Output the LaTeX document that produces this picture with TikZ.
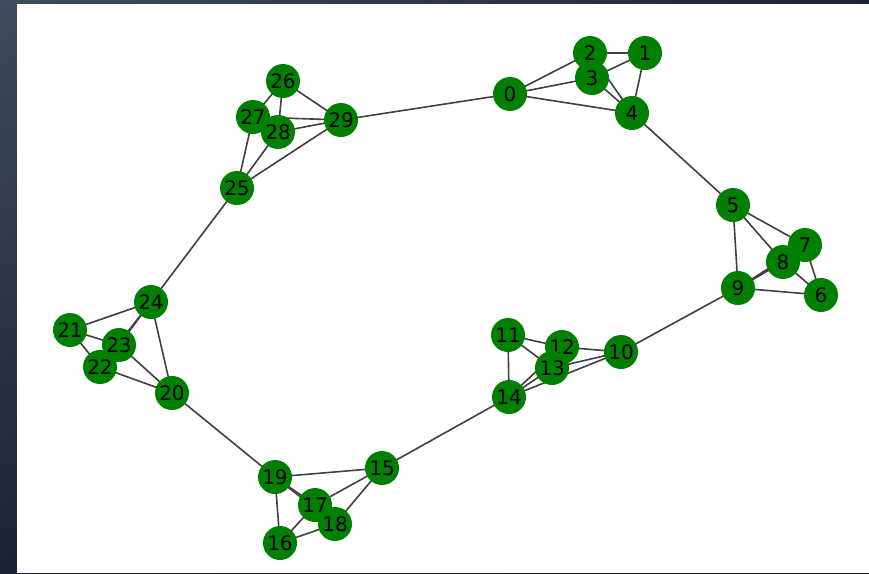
\documentclass[tikz,border=0pt]{standalone}
\usepackage{fontspec}
\setmainfont{DejaVu Sans}
\usetikzlibrary{shadings}
\definecolor{bgA}{HTML}{3E4D5B}
\definecolor{bgB}{HTML}{1C2230}
\definecolor{bgC}{HTML}{181C26}
\definecolor{nodegreen}{HTML}{008000}
\definecolor{edgegray}{HTML}{404040}
\pgfdeclarelayer{bg}
\pgfdeclarelayer{edges}
\pgfsetlayers{bg,edges,main}
\begin{document}
\begin{tikzpicture}[x=1pt,y=-1pt,
  vtx/.style={circle,fill=nodegreen,draw=none,minimum size=34pt,inner sep=0pt,font=\fontsize{20}{20}\selectfont,text=black},
  edge/.style={draw=edgegray,line width=1.6pt}]
\useasboundingbox (0,0) rectangle (869,573);
\begin{pgfonlayer}{bg}
\shade[upper left=bgA,lower left=bgB,upper right=bgB,lower right=bgC] (0,0) rectangle (869,573);
\fill[white] (17,4) rectangle (869,573);
\end{pgfonlayer}
% nodes
\foreach \n/\x/\y in {0/510/94,1/645/53,2/590/53,3/592/78,4/632/113,
  5/733/205,6/821/295,7/805/245,8/783/262,9/738/288,
  10/621/352,11/508/335,12/562/347,13/552/368,14/509/397,
  15/382/468,16/280/543,17/315/505,18/335/524,19/275/477,
  20/172/393,21/70/330,22/100/367,23/119/345,24/151/302,
  25/237/188,26/283/81,27/253/117,28/278/132,29/341/120}
  \node[vtx] (v\n) at (\x,\y) {\n};
% edges: caveman cliques (all pairs except s,s+1)
\begin{pgfonlayer}{edges}
\foreach \s in {0,5,10,15,20,25}{
  \foreach \i in {0,...,4}{
    \foreach \j in {0,...,4}{
      \ifnum\i<\j
        \pgfmathtruncatemacro{\a}{\s+\i}
        \pgfmathtruncatemacro{\b}{\s+\j}
        \ifnum\i=0 \ifnum\j=1 \else \draw[edge] (v\a.center) -- (v\b.center); \fi
        \else \draw[edge] (v\a.center) -- (v\b.center); \fi
      \fi
    }
  }
}
\foreach \a/\b in {0/29,4/5,9/10,14/15,19/20,24/25}
  \draw[edge] (v\a.center) -- (v\b.center);
\end{pgfonlayer}
\end{tikzpicture}
\end{document}
